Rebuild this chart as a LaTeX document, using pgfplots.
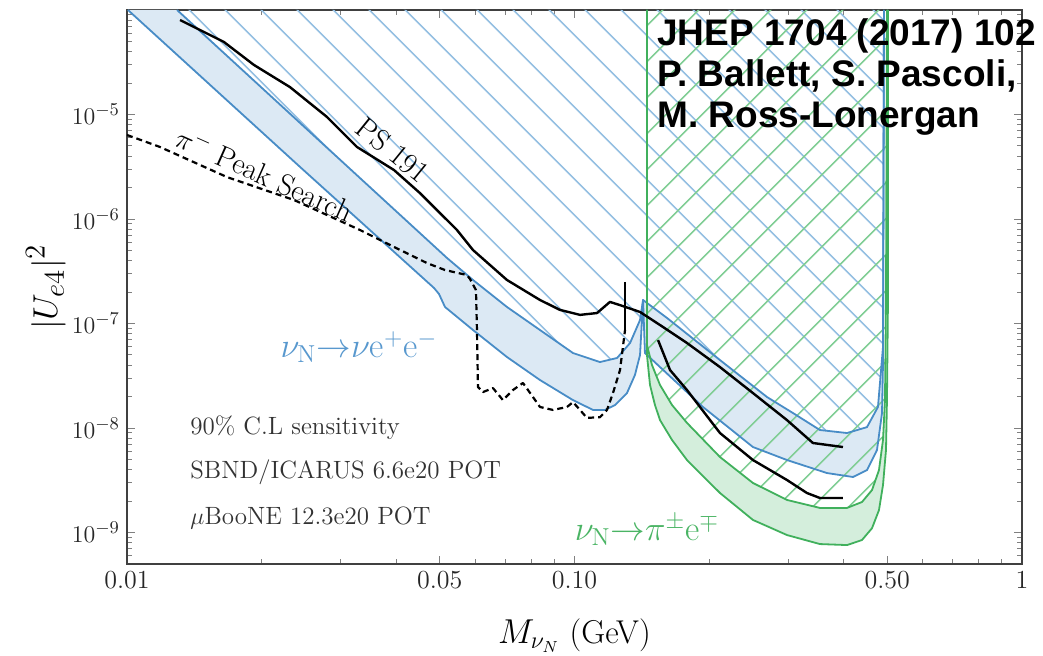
\documentclass[border=0pt]{standalone}
\usepackage{fontspec}
\newfontfamily\arialfont{Liberation Sans}
\usepackage{pgfplots}
\pgfplotsset{compat=1.18}
\usetikzlibrary{patterns.meta}

\definecolor{bline}{RGB}{72,140,198}
\definecolor{bfill}{RGB}{220,233,244}
\definecolor{bhatch}{RGB}{150,192,226}
\definecolor{gline}{RGB}{64,176,92}
\definecolor{gfill}{RGB}{212,238,220}
\definecolor{ghatch}{RGB}{130,206,150}
\definecolor{btext}{RGB}{88,152,206}
\definecolor{gtext}{RGB}{74,180,100}
\definecolor{ann}{RGB}{50,50,50}

\begin{document}
\begin{tikzpicture}
\begin{axis}[
  scale only axis, width=447.5pt, height=277pt,
  xmode=log, ymode=log,
  xmin=0.01, xmax=1, ymin=5e-10, ymax=1e-4,
  xtick={0.01,0.05,0.1,0.5,1},
  xticklabels={0.01,0.05,0.10,0.50,1},
  minor xtick={0.02,0.03,0.04,0.06,0.07,0.08,0.09,0.2,0.3,0.4,0.6,0.7,0.8,0.9},
  ytick={1e-9,1e-8,1e-7,1e-6,1e-5},
  minor ytick={6e-10,7e-10,8e-10,9e-10,
    2e-9,3e-9,4e-9,5e-9,6e-9,7e-9,8e-9,9e-9,
    2e-8,3e-8,4e-8,5e-8,6e-8,7e-8,8e-8,9e-8,
    2e-7,3e-7,4e-7,5e-7,6e-7,7e-7,8e-7,9e-7,
    2e-6,3e-6,4e-6,5e-6,6e-6,7e-6,8e-6,9e-6,
    2e-5,3e-5,4e-5,5e-5,6e-5,7e-5,8e-5,9e-5},
  tick label style={font=\fontsize{13}{15}\selectfont, black!85},
  axis line style={black!75, line width=1pt},
  major tick length=4pt, minor tick length=2.5pt,
  every tick/.style={black!50, line width=0.5pt},
  xlabel={$M_{\nu_N}$ (GeV)},
  xlabel style={at={(axis description cs:0.5,-0.144)}, anchor=base, font=\fontsize{16.5}{19}\selectfont},
  ylabel={$|U_{e4}|^2$},
  ylabel style={at={(axis description cs:-0.078,0.5)}, anchor=base, font=\fontsize{19}{21}\selectfont},
]
% blue band nu -> nu e e
\addplot[draw=none, fill=bfill, forget plot] coordinates {
(0.01005,1e-4) (0.02436,3.15e-6) (0.04853,2.19e-7) (0.04979,1.92e-7) (0.05136,1.44e-7)
(0.05932,8.67e-8) (0.07066,4.78e-8) (0.08373,2.88e-8) (0.09923,1.85e-8) (0.1100,1.49e-8)
(0.1170,1.49e-8) (0.1232,1.66e-8) (0.1310,2.16e-8) (0.1365,3.22e-8) (0.1401,5.0e-8)
(0.1423,1.68e-7) (0.1437,5.22e-8) (0.1553,3.83e-8) (0.1937,1.59e-8) (0.2505,6.58e-9)
(0.2985,4.94e-9) (0.3666,3.71e-9) (0.4191,3.40e-9) (0.4504,3.96e-9) (0.4742,6.16e-9)
(0.4866,1.39e-8) (0.4891,4.19e-8) (0.4916,1e-4)
(0.4916,1e-4) (0.4891,5.96e-8) (0.4766,1.59e-8) (0.4504,1.02e-8) (0.4064,8.96e-9)
(0.3536,9.57e-9) (0.3079,1.39e-8) (0.2693,1.98e-8) (0.2114,4.47e-8) (0.1610,1.13e-7)
(0.1423,1.68e-7) (0.1401,1.08e-7) (0.1331,6.51e-8) (0.1245,4.68e-8) (0.1140,4.28e-8)
(0.09923,5.22e-8) (0.08373,8.67e-8) (0.07066,1.44e-7) (0.05932,2.61e-7) (0.05189,4.24e-7)
(0.01294,1e-4)} -- cycle;
% green band nu -> pi e
\addplot[draw=none, fill=gfill, forget plot] coordinates {
(0.1452,1e-4) (0.1452,5.0e-8) (0.1475,2.58e-8) (0.1513,1.66e-8) (0.1553,1.19e-8)
(0.1652,7.68e-9) (0.1784,4.94e-9) (0.2114,2.39e-9) (0.2505,1.32e-9) (0.2985,9.46e-10)
(0.3536,7.76e-10) (0.4064,7.59e-10) (0.4390,8.48e-10) (0.4622,1.10e-9) (0.4791,1.64e-9)
(0.4891,2.85e-9) (0.4967,6.16e-9) (0.4992,1.85e-8) (0.5018,1.68e-7) (0.5018,1e-4)
(0.4992,1e-4) (0.4967,1.68e-7) (0.4941,1.85e-8) (0.4891,7.68e-9) (0.4791,3.96e-9)
(0.4622,2.55e-9) (0.4390,1.96e-9) (0.4064,1.72e-9) (0.3536,1.72e-9) (0.2985,2.05e-9)
(0.2505,2.98e-9) (0.2114,5.28e-9) (0.1784,1.12e-8) (0.1652,1.66e-8) (0.1553,2.58e-8)
(0.1490,4.01e-8) (0.1452,6.23e-8) (0.1452,1e-4)} -- cycle;
% hatched regions
\addplot[draw=none, pattern={Lines[angle=-45,distance=13pt,line width=0.9pt]}, pattern color=bhatch, forget plot] coordinates {
(0.01294,1e-4) (0.05189,4.24e-7) (0.05932,2.61e-7) (0.07066,1.44e-7) (0.08373,8.67e-8)
(0.09923,5.22e-8) (0.1140,4.28e-8) (0.1245,4.68e-8) (0.1331,6.51e-8) (0.1401,1.08e-7)
(0.1423,1.68e-7) (0.1610,1.13e-7) (0.2114,4.47e-8) (0.2693,1.98e-8) (0.3079,1.39e-8)
(0.3536,9.57e-9) (0.4064,8.96e-9) (0.4504,1.02e-8) (0.4766,1.59e-8) (0.4891,5.96e-8)
(0.4916,1e-4)} -- cycle;
\addplot[draw=none, pattern={Lines[angle=45,distance=13pt,line width=0.9pt]}, pattern color=ghatch, forget plot] coordinates {
(0.1452,1e-4) (0.1452,6.23e-8) (0.1490,4.01e-8) (0.1553,2.58e-8) (0.1652,1.66e-8)
(0.1784,1.12e-8) (0.2114,5.28e-9) (0.2505,2.98e-9) (0.2985,2.05e-9) (0.3536,1.72e-9)
(0.4064,1.72e-9) (0.4390,1.96e-9) (0.4622,2.55e-9) (0.4791,3.96e-9) (0.4891,7.68e-9)
(0.4941,1.85e-8) (0.4967,1.68e-7) (0.4992,1e-4)} -- cycle;
% band edges
\addplot[bline, line width=0.9pt, line join=round] coordinates {
(0.01005,1e-4) (0.02436,3.15e-6) (0.04853,2.19e-7) (0.04979,1.92e-7) (0.05136,1.44e-7)
(0.05932,8.67e-8) (0.07066,4.78e-8) (0.08373,2.88e-8) (0.09923,1.85e-8) (0.1100,1.49e-8)
(0.1170,1.49e-8) (0.1232,1.66e-8) (0.1310,2.16e-8) (0.1365,3.22e-8) (0.1401,5.0e-8)
(0.1423,1.68e-7) (0.1437,5.22e-8) (0.1553,3.83e-8) (0.1937,1.59e-8) (0.2505,6.58e-9)
(0.2985,4.94e-9) (0.3666,3.71e-9) (0.4191,3.40e-9) (0.4504,3.96e-9) (0.4742,6.16e-9)
(0.4866,1.39e-8) (0.4891,4.19e-8) (0.4916,1e-4)};
\addplot[bline, line width=0.9pt, line join=round] coordinates {
(0.01294,1e-4) (0.05189,4.24e-7) (0.05932,2.61e-7) (0.07066,1.44e-7) (0.08373,8.67e-8)
(0.09923,5.22e-8) (0.1140,4.28e-8) (0.1245,4.68e-8) (0.1331,6.51e-8) (0.1401,1.08e-7)
(0.1423,1.68e-7) (0.1610,1.13e-7) (0.2114,4.47e-8) (0.2693,1.98e-8) (0.3079,1.39e-8)
(0.3536,9.57e-9) (0.4064,8.96e-9) (0.4504,1.02e-8) (0.4766,1.59e-8) (0.4891,5.96e-8)
(0.4916,1e-4)};
\addplot[gline, line width=0.9pt, line join=round] coordinates {
(0.1452,1e-4) (0.1452,5.0e-8) (0.1475,2.58e-8) (0.1513,1.66e-8) (0.1553,1.19e-8)
(0.1652,7.68e-9) (0.1784,4.94e-9) (0.2114,2.39e-9) (0.2505,1.32e-9) (0.2985,9.46e-10)
(0.3536,7.76e-10) (0.4064,7.59e-10) (0.4390,8.48e-10) (0.4622,1.10e-9) (0.4791,1.64e-9)
(0.4891,2.85e-9) (0.4967,6.16e-9) (0.4992,1.85e-8) (0.5018,1.68e-7) (0.5018,1e-4)};
\addplot[gline, line width=0.9pt, line join=round] coordinates {
(0.1452,1e-4) (0.1452,6.23e-8) (0.1490,4.01e-8) (0.1553,2.58e-8) (0.1652,1.66e-8)
(0.1784,1.12e-8) (0.2114,5.28e-9) (0.2505,2.98e-9) (0.2985,2.05e-9) (0.3536,1.72e-9)
(0.4064,1.72e-9) (0.4390,1.96e-9) (0.4622,2.55e-9) (0.4791,3.96e-9) (0.4891,7.68e-9)
(0.4941,1.85e-8) (0.4967,1.68e-7) (0.4992,1e-4)};
% PS 191
\addplot[black, line width=1.2pt, line join=round] coordinates {
(0.01314,8.02e-5) (0.01647,4.94e-5) (0.01922,2.98e-5) (0.02313,1.83e-5) (0.02799,9.47e-6)
(0.03266,4.89e-6) (0.03952,2.94e-6) (0.04516,1.77e-6) (0.05463,7.85e-7) (0.05932,5.05e-7)
(0.07066,2.61e-7) (0.08373,1.68e-7) (0.09281,1.35e-7) (0.1029,1.21e-7) (0.1123,1.26e-7)
(0.1200,1.61e-7) (0.1264,1.50e-7) (0.1401,1.29e-7) (0.1553,9.67e-8) (0.1784,6.51e-8)
(0.2114,3.83e-8) (0.2505,2.16e-8) (0.2985,1.19e-8) (0.3411,7.19e-9) (0.3981,6.58e-9)};
% lower black curve
\addplot[black, line width=1.2pt, line join=round] coordinates {
(0.1537,6.95e-8) (0.1635,3.59e-8) (0.1784,2.31e-8) (0.2114,8.96e-9) (0.2505,4.94e-9)
(0.2985,3.18e-9) (0.3307,2.39e-9) (0.3536,2.14e-9) (0.3981,2.14e-9)};
\addplot[black, line width=1.2pt] coordinates {(0.1297,2.50e-7) (0.1297,8.67e-8)};
% pi- peak search
\addplot[black, line width=1.1pt, dash pattern=on 3pt off 2pt, line join=round] coordinates {
(0.0100,6.37e-6) (0.01185,4.89e-6) (0.01673,2.52e-6) (0.02362,1.52e-6) (0.03317,7.85e-7)
(0.03952,5.40e-7) (0.04681,3.79e-7) (0.05136,3.25e-7) (0.05751,2.91e-7) (0.05841,2.67e-7)
(0.06024,2.09e-7) (0.06055,8.67e-8) (0.06086,2.47e-8) (0.06245,2.21e-8) (0.06575,2.41e-8)
(0.06921,1.85e-8) (0.07287,2.31e-8) (0.07672,2.70e-8) (0.08077,1.98e-8) (0.08373,1.59e-8)
(0.08950,1.49e-8) (0.09622,1.59e-8) (0.09923,1.77e-8) (0.1029,1.49e-8) (0.1066,1.25e-8)
(0.1140,1.27e-8) (0.1182,1.49e-8) (0.1219,2.16e-8) (0.1264,3.59e-8) (0.1297,8.67e-8)};
% labels
\node[rotate=-39, font=\fontsize{15}{17}\selectfont] at (axis cs:0.0393,4.57e-6) {PS 191};
\node[rotate=-24, font=\fontsize{15}{17}\selectfont] at (axis cs:0.02034,2.70e-6) {$\pi^-$ Peak Search};
\node[text=btext, font=\fontsize{17.5}{19}\selectfont] at (axis cs:0.0330,5.96e-8) {$\nu_{\mathrm{N}}{\rightarrow}\nu\mathrm{e}^+\mathrm{e}^-$};
\node[text=gtext, font=\fontsize{17.5}{19}\selectfont] at (axis cs:0.1452,1.057e-9) {$\nu_{\mathrm{N}}{\rightarrow}\pi^\pm\mathrm{e}^\mp$};
\node[anchor=west, inner sep=0pt, text=ann, font=\fontsize{12.5}{15}\selectfont] at (axis cs:0.01383,1e-8) {90\% C.L sensitivity};
\node[anchor=west, inner sep=0pt, text=ann, font=\fontsize{12.5}{15}\selectfont] at (axis cs:0.01383,3.79e-9) {SBND/ICARUS 6.6e20 POT};
\node[anchor=west, inner sep=0pt, text=ann, font=\fontsize{12.5}{15}\selectfont] at (axis cs:0.01383,1.38e-9) {$\mu$BooNE 12.3e20 POT};
\end{axis}
\begin{scope}[every node/.style={anchor=base west, inner sep=0pt, font=\arialfont\bfseries\fontsize{18.5}{20}\selectfont}]
\node at (265pt,259pt) {JHEP 1704 (2017) 102};
\node at (265pt,238.5pt) {P. Ballett, S. Pascoli,};
\node at (265pt,218pt) {M. Ross-Lonergan};
\end{scope}
\pgfresetboundingbox
\path (-63.5pt,-46pt) rectangle (458pt,282pt);
\end{tikzpicture}
\end{document}
